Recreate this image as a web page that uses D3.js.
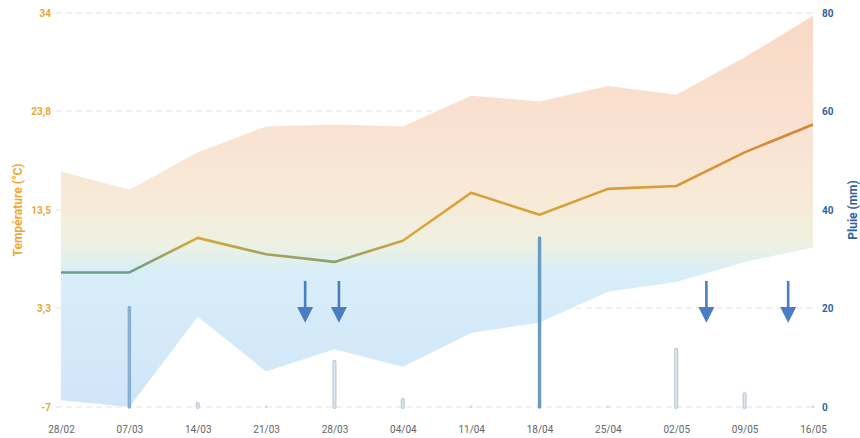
<!DOCTYPE html>
<html>
<head>
<meta charset="utf-8">
<script src="https://cdn.jsdelivr.net/npm/d3@7"></script>
<style>
    body { margin: 0; background: #fff; }
    svg { font-family: Roboto, "Open Sans", sans-serif; }
</style>
</head>
<body>
<div id="chart"></div>
<script>
// weekly readings
var dates = ["2022-02-28", "2022-03-07", "2022-03-14", "2022-03-21", "2022-03-28", "2022-04-04",
    "2022-04-11", "2022-04-18", "2022-04-25", "2022-05-02", "2022-05-09", "2022-05-16"];
var tempMean = [7.0, 7.0, 10.6, 8.9, 8.1, 10.3, 15.3, 13.0, 15.7, 16.0, 19.5, 22.4];
var tempMax = [17.5, 15.6, 19.5, 22.2, 22.4, 22.2, 25.4, 24.8, 26.4, 25.5, 29.4, 33.7];
var tempMin = [-6.3, -7.0, 2.4, -3.3, -1.0, -2.8, 0.7, 1.8, 5.0, 6.0, 8.1, 9.6];
var rain = [0, 20.2, 0.6, 0.1, 9.2, 1.4, 0.1, 34.3, 0.1, 11.6, 2.6, 0.1];
// treatment markers
var arrowDates = ["2022-03-25 00", "2022-03-28 11", "2022-05-05 02", "2022-05-13 11"];

var tempTicks = [-7, 3.3, 13.5, 23.8, 34];
var rainTicks = [0, 20, 40, 60, 80];

var width = 860, height = 438;
var margin = {top: 13, right: 47, bottom: 31, left: 61};

var parse = d3.timeParse("%Y-%m-%d");
var parseHour = d3.timeParse("%Y-%m-%d %H");
var data = dates.map(function (d, i) {
    return {date: parse(d), mean: tempMean[i], max: tempMax[i], min: tempMin[i], rain: rain[i]};
});

var svg = d3.select("#chart").append("svg")
    .attr("width", width)
    .attr("height", height);

var x = d3.scaleTime()
    .domain(d3.extent(data, function (d) { return d.date; }))
    .range([margin.left, width - margin.right]);

var yT = d3.scaleLinear().domain([-7, 34]).range([height - margin.bottom, margin.top]);
var yR = d3.scaleLinear().domain([0, 80]).range([height - margin.bottom, margin.top]);

var defs = svg.append("defs");

// area gradient follows temperature
var areaGrad = defs.append("linearGradient")
    .attr("id", "areaGrad")
    .attr("gradientUnits", "userSpaceOnUse")
    .attr("x1", 0).attr("x2", 0)
    .attr("y1", yT(34)).attr("y2", yT(-7));
[[34, "#f9d8c6"], [22, "#f9e2d2"], [14, "#f7ebd8"], [10, "#eef1e2"], [7, "#d8eef8"], [-7, "#d0e5f9"]]
    .forEach(function (s) {
        areaGrad.append("stop")
            .attr("offset", (34 - s[0]) / 41)
            .attr("stop-color", s[1]);
    });

var lineGrad = defs.append("linearGradient")
    .attr("id", "lineGrad")
    .attr("gradientUnits", "userSpaceOnUse")
    .attr("x1", 0).attr("x2", 0)
    .attr("y1", yT(34)).attr("y2", yT(-7));
[[34, "#d2702f"], [22, "#d5853a"], [15, "#d99f3a"], [10.5, "#d4aa3c"], [8.5, "#9aa164"], [7, "#6a9e8f"], [-7, "#5f9aa0"]]
    .forEach(function (s) {
        lineGrad.append("stop")
            .attr("offset", (34 - s[0]) / 41)
            .attr("stop-color", s[1]);
    });

// grid
svg.append("g")
    .selectAll("line")
    .data(tempTicks)
    .enter()
    .append("line")
    .attr("x1", margin.left - 5)
    .attr("x2", width - margin.right + 3)
    .attr("y1", function (d) { return yT(d); })
    .attr("y2", function (d) { return yT(d); })
    .style("stroke", "#e2e2e2")
    .style("stroke-width", 1)
    .style("stroke-dasharray", "6,4");

// min / max band
var area = d3.area()
    .x(function (d) { return x(d.date); })
    .y0(function (d) { return yT(d.min); })
    .y1(function (d) { return yT(d.max); });

svg.append("path")
    .datum(data)
    .attr("d", area)
    .style("fill", "url(#areaGrad)");

// rain bars
svg.append("g")
    .selectAll("line")
    .data(data.filter(function (d) { return d.rain > 0; }))
    .enter()
    .append("line")
    .attr("x1", function (d) { return x(d.date); })
    .attr("x2", function (d) { return x(d.date); })
    .attr("y1", yR(0))
    .attr("y2", function (d) { return Math.min(yR(d.rain), yR(0) - 0.5); })
    .style("stroke", function (d) {
        if (d.rain > 30) return "#6a9cbf";
        if (d.rain > 15) return "#86b1d2";
        if (d.rain < 0.5) return "#d4dbe2";
        return "#b8c6d4";
    })
    .style("stroke-width", function (d) {
        if (d.rain < 0.5) return 2.5;
        return d.rain > 15 ? 3.5 : 4;
    })
    .style("stroke-linecap", "round");

svg.append("g")
    .selectAll("line")
    .data(data.filter(function (d) { return d.rain > 0.5 && d.rain < 15; }))
    .enter()
    .append("line")
    .attr("x1", function (d) { return x(d.date); })
    .attr("x2", function (d) { return x(d.date); })
    .attr("y1", yR(0))
    .attr("y2", function (d) { return yR(d.rain); })
    .style("stroke", "#dce4ec")
    .style("stroke-width", 2)
    .style("stroke-linecap", "round");

// mean temperature line
var line = d3.line()
    .x(function (d) { return x(d.date); })
    .y(function (d) { return yT(d.mean); });

svg.append("path")
    .datum(data)
    .attr("d", line)
    .style("fill", "none")
    .style("stroke", "url(#lineGrad)")
    .style("stroke-width", 2.6)
    .style("stroke-linejoin", "round");

// arrows
var arrows = svg.append("g")
    .selectAll("g")
    .data(arrowDates.map(parseHour))
    .enter()
    .append("g")
    .attr("transform", function (d) { return "translate(" + x(d) + ",0)"; });

arrows.append("line")
    .attr("x1", 0).attr("x2", 0)
    .attr("y1", yR(25.6))
    .attr("y2", yR(19.5))
    .style("stroke", "#4a7dc2")
    .style("stroke-width", 2.6);

arrows.append("path")
    .attr("d", function () {
        var t = yR(20.3), b = yR(17.1);
        return "M-8," + t + "L8," + t + "L0," + b + "Z";
    })
    .style("fill", "#4a7dc2");

// axes labels
svg.append("g")
    .selectAll("text")
    .data(tempTicks)
    .enter()
    .append("text")
    .attr("x", margin.left - 10)
    .attr("y", function (d) { return yT(d); })
    .attr("dy", "0.35em")
    .attr("text-anchor", "end")
    .style("fill", "#eaa733")
    .style("font-size", "10px")
    .style("font-weight", "bold")
    .text(function (d) { return String(d).replace(".", ","); });

svg.append("g")
    .selectAll("text")
    .data(rainTicks)
    .enter()
    .append("text")
    .attr("x", width - margin.right + 9)
    .attr("y", function (d) { return yR(d); })
    .attr("dy", "0.35em")
    .attr("text-anchor", "start")
    .style("fill", "#2f64a3")
    .style("font-size", "10px")
    .style("font-weight", "bold")
    .text(function (d) { return d; });

var xAxis = svg.append("g")
    .attr("transform", "translate(0," + (height - margin.bottom + 23) + ")")
    .call(d3.axisBottom(x)
        .tickValues(data.map(function (d) { return d.date; }))
        .tickFormat(d3.timeFormat("%d/%m"))
        .tickSize(0));
xAxis.select(".domain").remove();
xAxis.selectAll("text")
    .attr("dy", 0)
    .style("fill", "#666")
    .style("font-size", "10px")
    .style("font-family", "Roboto, 'Open Sans', sans-serif");

svg.append("text")
    .attr("transform", "translate(22," + yT(13.5) + ") rotate(-90)")
    .attr("text-anchor", "middle")
    .style("fill", "#eaa733")
    .style("font-size", "12px")
    .style("font-weight", "bold")
    .text("Température (°C)");

svg.append("text")
    .attr("transform", "translate(857," + yR(40) + ") rotate(-90)")
    .attr("text-anchor", "middle")
    .style("fill", "#2f64a3")
    .style("font-size", "12px")
    .style("font-weight", "bold")
    .text("Pluie (mm)");
</script>
</body>
</html>
